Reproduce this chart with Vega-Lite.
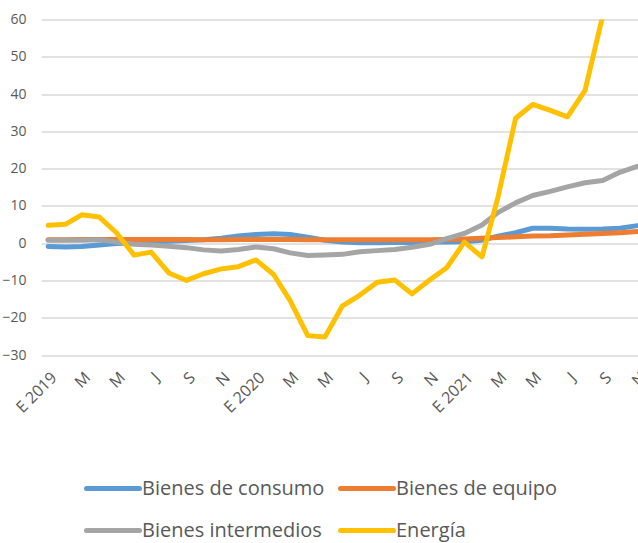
{
  "$schema": "https://vega.github.io/schema/vega-lite/v6.json",
  "width": 597,
  "height": 335.5,
  "autosize": "none",
  "padding": {"left": 41, "top": 19.5, "right": 0, "bottom": 188},
  "background": "white",
  "config": {"view": {"stroke": null}, "font": "Open Sans"},
  "data": {"values": [
    {"fecha":"2019-01-01","serie":"Bienes de consumo","valor":-0.9},
    {"fecha":"2019-02-01","serie":"Bienes de consumo","valor":-1.0},
    {"fecha":"2019-03-01","serie":"Bienes de consumo","valor":-0.9},
    {"fecha":"2019-04-01","serie":"Bienes de consumo","valor":-0.5},
    {"fecha":"2019-05-01","serie":"Bienes de consumo","valor":-0.1},
    {"fecha":"2019-06-01","serie":"Bienes de consumo","valor":0.1},
    {"fecha":"2019-07-01","serie":"Bienes de consumo","valor":0.3},
    {"fecha":"2019-08-01","serie":"Bienes de consumo","valor":0.5},
    {"fecha":"2019-09-01","serie":"Bienes de consumo","valor":0.7},
    {"fecha":"2019-10-01","serie":"Bienes de consumo","valor":0.9},
    {"fecha":"2019-11-01","serie":"Bienes de consumo","valor":1.3},
    {"fecha":"2019-12-01","serie":"Bienes de consumo","valor":1.9},
    {"fecha":"2020-01-01","serie":"Bienes de consumo","valor":2.3},
    {"fecha":"2020-02-01","serie":"Bienes de consumo","valor":2.5},
    {"fecha":"2020-03-01","serie":"Bienes de consumo","valor":2.3},
    {"fecha":"2020-04-01","serie":"Bienes de consumo","valor":1.6},
    {"fecha":"2020-05-01","serie":"Bienes de consumo","valor":0.8},
    {"fecha":"2020-06-01","serie":"Bienes de consumo","valor":0.3},
    {"fecha":"2020-07-01","serie":"Bienes de consumo","valor":0.1},
    {"fecha":"2020-08-01","serie":"Bienes de consumo","valor":0.1},
    {"fecha":"2020-09-01","serie":"Bienes de consumo","valor":0.2},
    {"fecha":"2020-10-01","serie":"Bienes de consumo","valor":0.2},
    {"fecha":"2020-11-01","serie":"Bienes de consumo","valor":0.3},
    {"fecha":"2020-12-01","serie":"Bienes de consumo","valor":0.3},
    {"fecha":"2021-01-01","serie":"Bienes de consumo","valor":0.4},
    {"fecha":"2021-02-01","serie":"Bienes de consumo","valor":0.8},
    {"fecha":"2021-03-01","serie":"Bienes de consumo","valor":1.9},
    {"fecha":"2021-04-01","serie":"Bienes de consumo","valor":2.8},
    {"fecha":"2021-05-01","serie":"Bienes de consumo","valor":4.0},
    {"fecha":"2021-06-01","serie":"Bienes de consumo","valor":4.0},
    {"fecha":"2021-07-01","serie":"Bienes de consumo","valor":3.8},
    {"fecha":"2021-08-01","serie":"Bienes de consumo","valor":3.7},
    {"fecha":"2021-09-01","serie":"Bienes de consumo","valor":3.8},
    {"fecha":"2021-10-01","serie":"Bienes de consumo","valor":4.0},
    {"fecha":"2021-11-01","serie":"Bienes de consumo","valor":4.7},
    {"fecha":"2019-01-01","serie":"Bienes de equipo","valor":0.9},
    {"fecha":"2019-02-01","serie":"Bienes de equipo","valor":0.9},
    {"fecha":"2019-03-01","serie":"Bienes de equipo","valor":1.0},
    {"fecha":"2019-04-01","serie":"Bienes de equipo","valor":1.0},
    {"fecha":"2019-05-01","serie":"Bienes de equipo","valor":1.0},
    {"fecha":"2019-06-01","serie":"Bienes de equipo","valor":1.0},
    {"fecha":"2019-07-01","serie":"Bienes de equipo","valor":1.0},
    {"fecha":"2019-08-01","serie":"Bienes de equipo","valor":1.0},
    {"fecha":"2019-09-01","serie":"Bienes de equipo","valor":1.0},
    {"fecha":"2019-10-01","serie":"Bienes de equipo","valor":0.9},
    {"fecha":"2019-11-01","serie":"Bienes de equipo","valor":0.9},
    {"fecha":"2019-12-01","serie":"Bienes de equipo","valor":1.0},
    {"fecha":"2020-01-01","serie":"Bienes de equipo","valor":1.0},
    {"fecha":"2020-02-01","serie":"Bienes de equipo","valor":1.0},
    {"fecha":"2020-03-01","serie":"Bienes de equipo","valor":1.0},
    {"fecha":"2020-04-01","serie":"Bienes de equipo","valor":0.9},
    {"fecha":"2020-05-01","serie":"Bienes de equipo","valor":0.9},
    {"fecha":"2020-06-01","serie":"Bienes de equipo","valor":0.9},
    {"fecha":"2020-07-01","serie":"Bienes de equipo","valor":0.9},
    {"fecha":"2020-08-01","serie":"Bienes de equipo","valor":0.9},
    {"fecha":"2020-09-01","serie":"Bienes de equipo","valor":0.9},
    {"fecha":"2020-10-01","serie":"Bienes de equipo","valor":0.9},
    {"fecha":"2020-11-01","serie":"Bienes de equipo","valor":0.9},
    {"fecha":"2020-12-01","serie":"Bienes de equipo","valor":1.0},
    {"fecha":"2021-01-01","serie":"Bienes de equipo","valor":1.1},
    {"fecha":"2021-02-01","serie":"Bienes de equipo","valor":1.3},
    {"fecha":"2021-03-01","serie":"Bienes de equipo","valor":1.5},
    {"fecha":"2021-04-01","serie":"Bienes de equipo","valor":1.7},
    {"fecha":"2021-05-01","serie":"Bienes de equipo","valor":1.9},
    {"fecha":"2021-06-01","serie":"Bienes de equipo","valor":2.0},
    {"fecha":"2021-07-01","serie":"Bienes de equipo","valor":2.2},
    {"fecha":"2021-08-01","serie":"Bienes de equipo","valor":2.4},
    {"fecha":"2021-09-01","serie":"Bienes de equipo","valor":2.6},
    {"fecha":"2021-10-01","serie":"Bienes de equipo","valor":2.8},
    {"fecha":"2021-11-01","serie":"Bienes de equipo","valor":3.1},
    {"fecha":"2019-01-01","serie":"Bienes intermedios","valor":0.8},
    {"fecha":"2019-02-01","serie":"Bienes intermedios","valor":0.8},
    {"fecha":"2019-03-01","serie":"Bienes intermedios","valor":0.8},
    {"fecha":"2019-04-01","serie":"Bienes intermedios","valor":0.9},
    {"fecha":"2019-05-01","serie":"Bienes intermedios","valor":0.3},
    {"fecha":"2019-06-01","serie":"Bienes intermedios","valor":-0.3},
    {"fecha":"2019-07-01","serie":"Bienes intermedios","valor":-0.5},
    {"fecha":"2019-08-01","serie":"Bienes intermedios","valor":-0.8},
    {"fecha":"2019-09-01","serie":"Bienes intermedios","valor":-1.2},
    {"fecha":"2019-10-01","serie":"Bienes intermedios","valor":-1.8},
    {"fecha":"2019-11-01","serie":"Bienes intermedios","valor":-2.1},
    {"fecha":"2019-12-01","serie":"Bienes intermedios","valor":-1.7},
    {"fecha":"2020-01-01","serie":"Bienes intermedios","valor":-1.0},
    {"fecha":"2020-02-01","serie":"Bienes intermedios","valor":-1.5},
    {"fecha":"2020-03-01","serie":"Bienes intermedios","valor":-2.6},
    {"fecha":"2020-04-01","serie":"Bienes intermedios","valor":-3.3},
    {"fecha":"2020-05-01","serie":"Bienes intermedios","valor":-3.2},
    {"fecha":"2020-06-01","serie":"Bienes intermedios","valor":-3.0},
    {"fecha":"2020-07-01","serie":"Bienes intermedios","valor":-2.3},
    {"fecha":"2020-08-01","serie":"Bienes intermedios","valor":-2.0},
    {"fecha":"2020-09-01","serie":"Bienes intermedios","valor":-1.7},
    {"fecha":"2020-10-01","serie":"Bienes intermedios","valor":-1.1},
    {"fecha":"2020-11-01","serie":"Bienes intermedios","valor":-0.3},
    {"fecha":"2020-12-01","serie":"Bienes intermedios","valor":1.2},
    {"fecha":"2021-01-01","serie":"Bienes intermedios","valor":2.6},
    {"fecha":"2021-02-01","serie":"Bienes intermedios","valor":4.9},
    {"fecha":"2021-03-01","serie":"Bienes intermedios","valor":8.2},
    {"fecha":"2021-04-01","serie":"Bienes intermedios","valor":10.8},
    {"fecha":"2021-05-01","serie":"Bienes intermedios","valor":12.8},
    {"fecha":"2021-06-01","serie":"Bienes intermedios","valor":13.9},
    {"fecha":"2021-07-01","serie":"Bienes intermedios","valor":15.1},
    {"fecha":"2021-08-01","serie":"Bienes intermedios","valor":16.2},
    {"fecha":"2021-09-01","serie":"Bienes intermedios","valor":16.8},
    {"fecha":"2021-10-01","serie":"Bienes intermedios","valor":19.0},
    {"fecha":"2021-11-01","serie":"Bienes intermedios","valor":20.6},
    {"fecha":"2019-01-01","serie":"Energía","valor":4.8},
    {"fecha":"2019-02-01","serie":"Energía","valor":5.1},
    {"fecha":"2019-03-01","serie":"Energía","valor":7.6},
    {"fecha":"2019-04-01","serie":"Energía","valor":7.0},
    {"fecha":"2019-05-01","serie":"Energía","valor":2.8},
    {"fecha":"2019-06-01","serie":"Energía","valor":-3.2},
    {"fecha":"2019-07-01","serie":"Energía","valor":-2.4},
    {"fecha":"2019-08-01","serie":"Energía","valor":-8.0},
    {"fecha":"2019-09-01","serie":"Energía","valor":-10.0},
    {"fecha":"2019-10-01","serie":"Energía","valor":-8.2},
    {"fecha":"2019-11-01","serie":"Energía","valor":-6.9},
    {"fecha":"2019-12-01","serie":"Energía","valor":-6.3},
    {"fecha":"2020-01-01","serie":"Energía","valor":-4.5},
    {"fecha":"2020-02-01","serie":"Energía","valor":-8.4},
    {"fecha":"2020-03-01","serie":"Energía","valor":-15.4},
    {"fecha":"2020-04-01","serie":"Energía","valor":-24.8},
    {"fecha":"2020-05-01","serie":"Energía","valor":-25.2},
    {"fecha":"2020-06-01","serie":"Energía","valor":-16.8},
    {"fecha":"2020-07-01","serie":"Energía","valor":-14.0},
    {"fecha":"2020-08-01","serie":"Energía","valor":-10.5},
    {"fecha":"2020-09-01","serie":"Energía","valor":-9.9},
    {"fecha":"2020-10-01","serie":"Energía","valor":-13.6},
    {"fecha":"2020-11-01","serie":"Energía","valor":-9.9},
    {"fecha":"2020-12-01","serie":"Energía","valor":-6.6},
    {"fecha":"2021-01-01","serie":"Energía","valor":0.3},
    {"fecha":"2021-02-01","serie":"Energía","valor":-3.7},
    {"fecha":"2021-03-01","serie":"Energía","valor":12.3},
    {"fecha":"2021-04-01","serie":"Energía","valor":33.5},
    {"fecha":"2021-05-01","serie":"Energía","valor":37.2},
    {"fecha":"2021-06-01","serie":"Energía","valor":35.6},
    {"fecha":"2021-07-01","serie":"Energía","valor":33.9},
    {"fecha":"2021-08-01","serie":"Energía","valor":41.0},
    {"fecha":"2021-09-01","serie":"Energía","valor":61.0},
    {"fecha":"2021-10-01","serie":"Energía","valor":72.0},
    {"fecha":"2021-11-01","serie":"Energía","valor":78.0}
  ]},
  "mark": {"type": "line", "strokeWidth": 5, "strokeJoin": "round", "strokeCap": "round", "clip": true},
  "encoding": {
    "x": {
      "field": "fecha", "type": "temporal",
      "scale": {"type": "utc", "domain": [{"year": 2018, "month": 12, "date": 19, "hours": 12, "utc": true}, {"year": 2021, "month": 11, "date": 2, "utc": true}]},
      "axis": {
        "title": null, "domain": false, "ticks": false, "grid": false,
        "values": [
          {"year": 2019, "month": 1, "date": 1, "utc": true}, {"year": 2019, "month": 3, "date": 1, "utc": true},
          {"year": 2019, "month": 5, "date": 1, "utc": true}, {"year": 2019, "month": 7, "date": 1, "utc": true},
          {"year": 2019, "month": 9, "date": 1, "utc": true}, {"year": 2019, "month": 11, "date": 1, "utc": true},
          {"year": 2020, "month": 1, "date": 1, "utc": true}, {"year": 2020, "month": 3, "date": 1, "utc": true},
          {"year": 2020, "month": 5, "date": 1, "utc": true}, {"year": 2020, "month": 7, "date": 1, "utc": true},
          {"year": 2020, "month": 9, "date": 1, "utc": true}, {"year": 2020, "month": 11, "date": 1, "utc": true},
          {"year": 2021, "month": 1, "date": 1, "utc": true}, {"year": 2021, "month": 3, "date": 1, "utc": true},
          {"year": 2021, "month": 5, "date": 1, "utc": true}, {"year": 2021, "month": 7, "date": 1, "utc": true},
          {"year": 2021, "month": 9, "date": 1, "utc": true}, {"year": 2021, "month": 11, "date": 1, "utc": true}
        ],
        "labelExpr": "utcmonth(datum.value) == 0 ? 'E ' + utcyear(datum.value) : ['E','F','M','A','M','J','J','A','S','O','N','D'][utcmonth(datum.value)]",
        "labelAngle": -45, "labelFontSize": 16, "labelColor": "#595959", "labelPadding": 14,
        "labelOverlap": false, "labelFlush": false, "labelBound": false
      }
    },
    "y": {
      "field": "valor", "type": "quantitative",
      "scale": {"domain": [-30, 60], "nice": false, "zero": false},
      "axis": {
        "title": null, "domain": false, "ticks": false, "grid": true,
        "gridColor": "#d9d9d9", "gridWidth": 1.3,
        "values": [-30, -20, -10, 0, 10, 20, 30, 40, 50, 60],
        "labelFontSize": 14, "labelColor": "#595959", "labelPadding": 15
      }
    },
    "color": {
      "field": "serie", "type": "nominal",
      "scale": {"domain": ["Bienes de consumo", "Bienes de equipo", "Bienes intermedios", "Energía"], "range": ["#5b9bd5", "#ed7d31", "#a5a5a5", "#ffc000"]},
      "legend": {
        "title": null, "orient": "none", "legendX": 43, "legendY": 440,
        "direction": "horizontal", "columns": 2,
        "symbolType": "stroke", "symbolSize": 2809, "symbolStrokeWidth": 5,
        "labelFontSize": 20, "labelColor": "#595959", "labelOffset": 0, "labelLimit": 400,
        "columnPadding": 5, "rowPadding": 3,
        "encode": {"symbols": {"update": {"strokeCap": {"value": "round"}}}}
      }
    }
  }
}
